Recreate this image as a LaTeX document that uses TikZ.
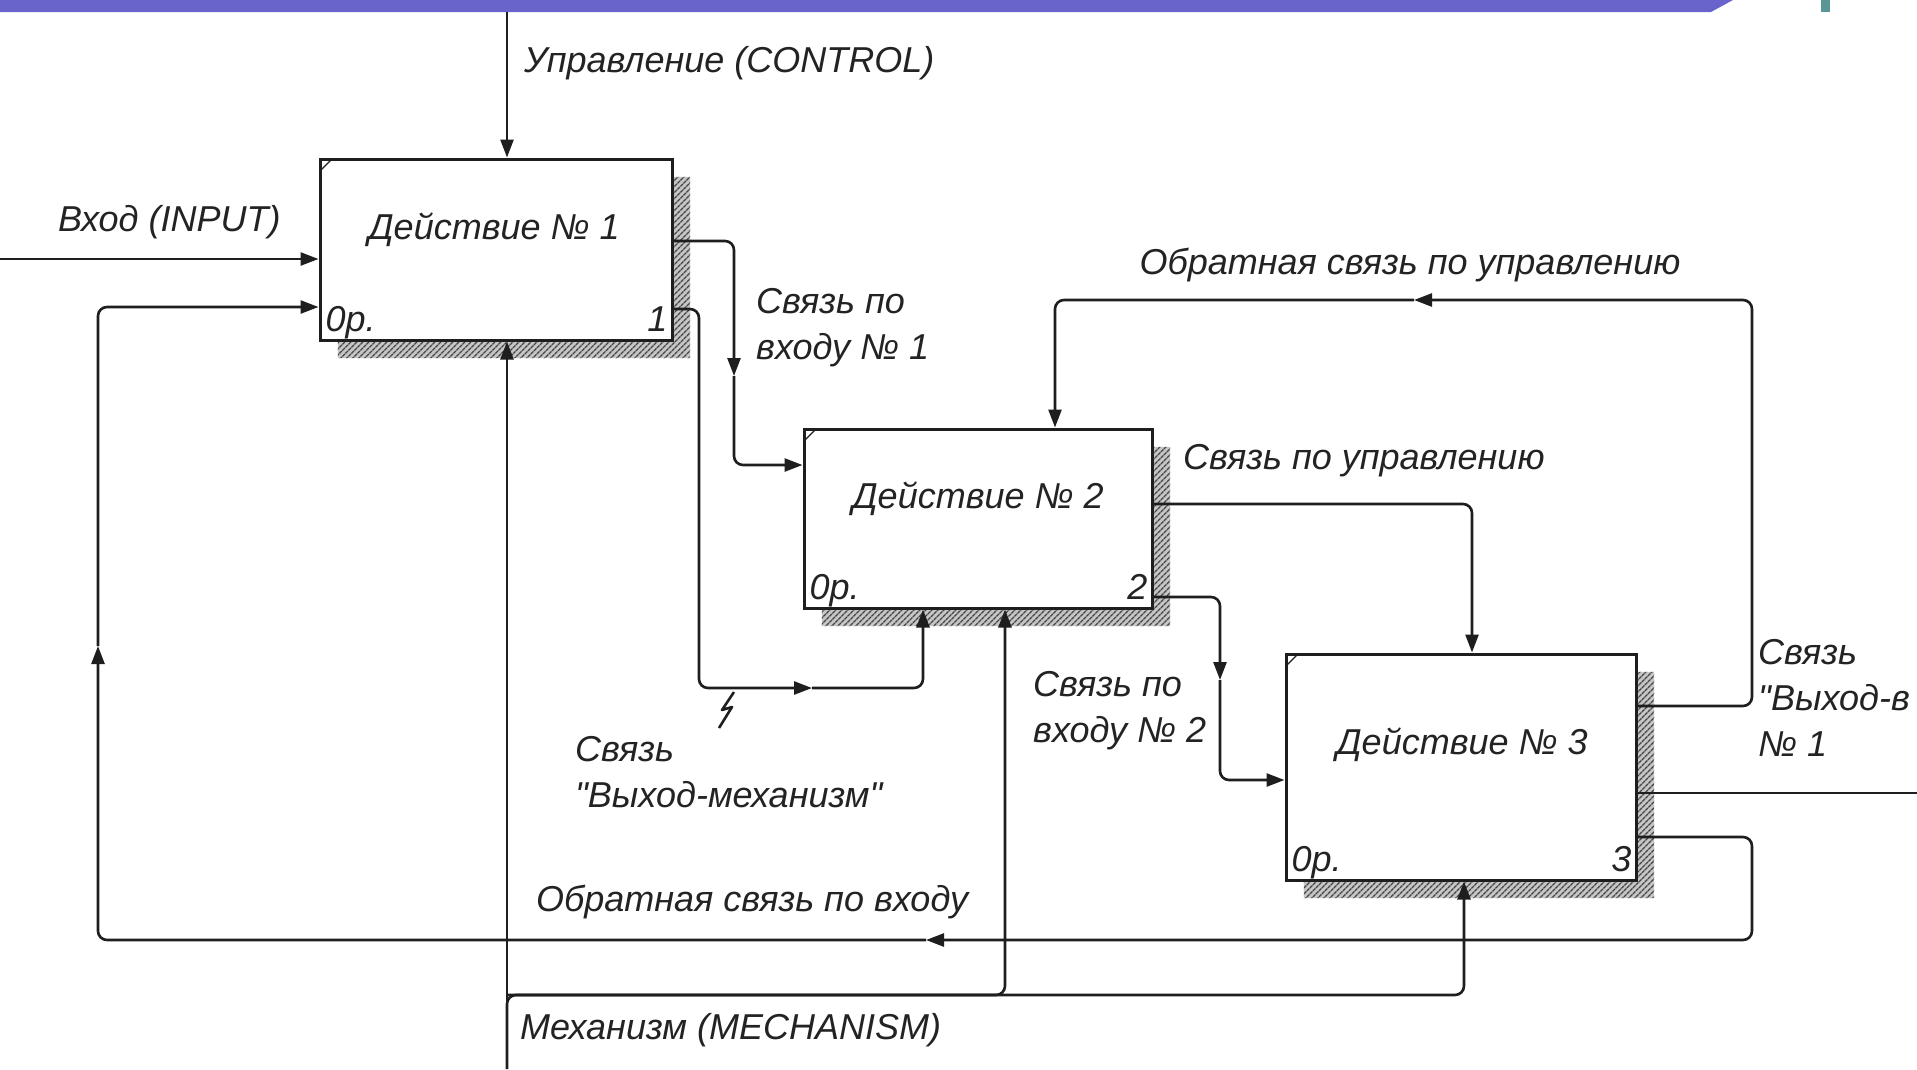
\documentclass[tikz,border=0pt]{standalone}
\usepackage{fontspec}
\setmainfont{Liberation Sans}[Ligatures=TeXOff]
\usetikzlibrary{arrows.meta,calc,patterns.meta}
\definecolor{bandc}{RGB}{104,100,204}
\definecolor{tealc}{RGB}{90,150,150}
\definecolor{inkc}{RGB}{30,30,30}
\definecolor{txtc}{RGB}{35,35,35}
\begin{document}
\begin{tikzpicture}[x=1pt,y=-1pt,
  conn/.style={line width=2.6pt, draw=inkc, rounded corners=9pt},
  tipend/.style={-{Triangle[length=18pt,width=13pt]}},
  boxnode/.style={draw=inkc, line width=3pt, fill=white, inner sep=0pt, rectangle},
  lbl/.style={font=\fontsize{36}{46}\selectfont\itshape, inner sep=0pt, text=txtc},
]
\useasboundingbox (0,0) rectangle (1917,1069);
\fill[white] (0,0) rectangle (1917,1069);
% top band
\fill[bandc] (0,0) -- (1733,0) -- (1711,12) -- (0,12) -- cycle;
\fill[tealc] (1821,0) rectangle (1830,12);

% boxes (named, empty)
\path (496,249.5) node[minimum width=352pt, minimum height=181pt, inner sep=0pt] (s1) {};
\path (978,518.5) node[minimum width=348pt, minimum height=179pt, inner sep=0pt] (s2) {};
\path (1461,767) node[minimum width=350pt, minimum height=226pt, inner sep=0pt] (s3) {};
% shadows
\foreach \b in {s1,s2,s3}{
  \fill[gray!45] ($(\b.north east)+(0,18)$) -- ($(\b.north east)+(18,18)$) -- ($(\b.south east)+(18,18)$) -- ($(\b.south west)+(18,18)$) -- ($(\b.south west)+(18,0)$) -- (\b.south east) -- cycle;
  \path[pattern={Lines[angle=45,distance=4pt,line width=1.6pt]}, pattern color=gray!55!black] ($(\b.north east)+(0,18)$) -- ($(\b.north east)+(18,18)$) -- ($(\b.south east)+(18,18)$) -- ($(\b.south west)+(18,18)$) -- ($(\b.south west)+(18,0)$) -- (\b.south east) -- cycle;
}
\node[boxnode, minimum width=352pt, minimum height=181pt] (b1) at (496,249.5) {};
\node[boxnode, minimum width=348pt, minimum height=179pt] (b2) at (978,518.5) {};
\node[boxnode, minimum width=350pt, minimum height=226pt] (b3) at (1461,767) {};
\foreach \b in {b1,b2,b3}{
  \draw[inkc, line width=1.2pt] ($(\b.north west)+(2,13)$) -- ($(\b.north west)+(13,2)$);
}

% box texts
\node[lbl] (t1) at (494,230) {Действие № 1};
\node[lbl] (t2) at (978,499) {Действие № 2};
\node[lbl] (t3) at (1462,745) {Действие № 3};
\node[lbl, anchor=base west] (c1) at ($(b1.south west)+(7,-10)$) {0р.};
\node[lbl, anchor=base west] (c2) at ($(b2.south west)+(7,-10)$) {0р.};
\node[lbl, anchor=base west] (c3) at ($(b3.south west)+(7,-10)$) {0р.};
\node[lbl, anchor=base east] (n1) at ($(b1.south east)+(-6,-10)$) {1};
\node[lbl, anchor=base east] (n2) at ($(b2.south east)+(-6,-10)$) {2};
\node[lbl, anchor=base east] (n3) at ($(b3.south east)+(-6,-10)$) {3};

% coordinates
\coordinate (ctrlTop) at (507,12);
\coordinate (inL) at (0,259);
\coordinate (mechBot) at (507,1069);
\coordinate (mechJ) at (507,995);
\coordinate (m2) at (1005,995);
\coordinate (m3) at (1464,995);
\coordinate (l1a) at (734,241);
\coordinate (l1m) at (734,376);
\coordinate (l1b) at (734,465);
\coordinate (lm1) at (699,309);
\coordinate (lm2) at (699,688);
\coordinate (lmm) at (812,688);
\coordinate (lm3) at (923,688);
\coordinate (lc1) at (1472,504);
\coordinate (l2a) at (1220,597);
\coordinate (l2m) at (1220,680);
\coordinate (l2b) at (1220,780);
\coordinate (fc1) at (1752,706);
\coordinate (fc2) at (1752,300);
\coordinate (fcm) at (1414,300);
\coordinate (fc3) at (1055,300);
\coordinate (outR) at (1917,793);
\coordinate (fi1) at (1752,837);
\coordinate (fi2) at (1752,940);
\coordinate (fim) at (926,940);
\coordinate (fi3) at (98,940);
\coordinate (fivm) at (98,646);
\coordinate (fi4) at (98,307);

% connectors
\draw[conn,tipend] (ctrlTop) -- (ctrlTop |- b1.north);
\draw[conn,tipend] (inL) -- (inL -| b1.west);
\draw[conn,tipend] (mechBot) -- (mechBot |- b1.south);
\draw[conn,tipend] (mechBot) -- (mechJ) -- (m3) -- (m3 |- b3.south);
\draw[conn,tipend] (mechJ) -- (m2) -- (m2 |- b2.south);
% link 1
\draw[conn,tipend] (l1a -| b1.east) -- (l1a) -- (l1m);
\draw[conn,tipend] (l1m) -- (l1b) -- (l1b -| b2.west);
% link output-mechanism
\draw[conn,tipend] (lm1 -| b1.east) -- (lm1) -- (lm2) -- (lmm);
\draw[conn,tipend] (lmm) -- (lm3) -- (lm3 |- b2.south);
\draw[inkc, line width=2.6pt, line join=round] (734,692) -- (722,710) -- (732,707) -- (719,728);
% link control 2->3
\draw[conn,tipend] (lc1 -| b2.east) -- (lc1) -- (lc1 |- b3.north);
% link 2
\draw[conn,tipend] (l2a -| b2.east) -- (l2a) -- (l2m);
\draw[conn,tipend] (l2m) -- (l2b) -- (l2b -| b3.west);
% feedback control
\draw[conn,tipend] (fc1 -| b3.east) -- (fc1) -- (fc2) -- (fcm);
\draw[conn,tipend] (fcm) -- (fc3) -- (fc3 |- b2.north);
% output
\draw[conn] (outR -| b3.east) -- (outR);
% feedback input
\draw[conn,tipend] (fi1 -| b3.east) -- (fi1) -- (fi2) -- (fim);
\draw[conn,tipend] (fim) -- (fi3) -- (fivm);
\draw[conn,tipend] (fivm) -- (fi4) -- (fi4 -| b1.west);

% labels
\node[lbl, anchor=west] (tCtrl) at (524,63) {Управление (CONTROL)};
\node[lbl, anchor=west] (tIn) at (58,222) {Вход (INPUT)};
\node[lbl, anchor=west, align=left] (tL1) at (756,328) {Связь по\\входу № 1};
\node[lbl, anchor=west] (tLC) at (1183,461) {Связь по управлению};
\node[lbl, anchor=west, align=left] (tL2) at (1033,711) {Связь по\\входу № 2};
\node[lbl, anchor=west, align=left] (tLM) at (575,772) {Связь\\"Выход-механизм"};
\node[lbl] (tFC) at (1410,265) {Обратная связь по управлению};
\node[lbl] (tFI) at (752,902) {Обратная связь по входу};
\node[lbl, anchor=west] (tMech) at (520,1030) {Механизм (MECHANISM)};
\node[lbl, anchor=west, align=left] (tOut) at (1758,698) {Связь\\"Выход-в\\№ 1};
\end{tikzpicture}
\end{document}
